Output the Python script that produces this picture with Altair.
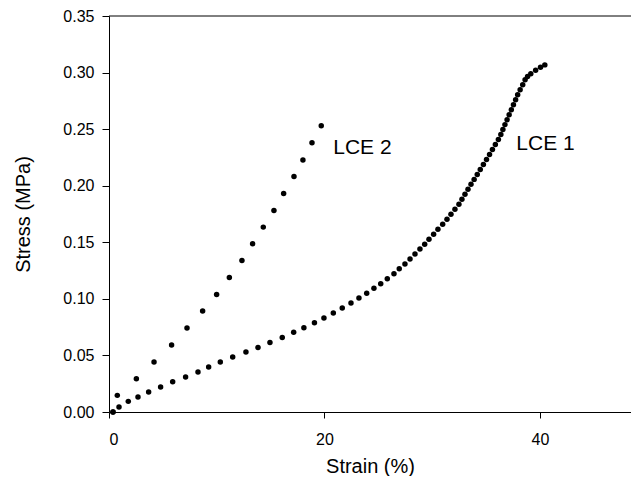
import altair as alt
import pandas as pd

# LCE 1
strain1 = [0.37, 0.93, 1.79, 2.69, 3.68, 4.79, 5.91, 7.11, 8.26, 9.25, 10.33, 11.48, 12.71,
           13.83, 14.94, 16.08, 17.14, 18.09, 19.07, 19.95, 20.82, 21.65, 22.46, 23.20, 23.92,
           24.59, 25.22, 25.83, 26.45, 26.94, 27.47, 27.94, 28.40, 28.86, 29.30, 29.70, 30.13,
           30.53, 30.97, 31.37, 31.74, 32.11, 32.48, 32.76, 33.04, 33.32, 33.60, 33.89, 34.18,
           34.46, 34.75, 35.04, 35.32, 35.59, 35.86, 36.14, 36.37, 36.56, 36.75, 36.95, 37.14,
           37.34, 37.54, 37.74, 37.93, 38.16, 38.40, 38.62, 38.85, 39.15, 39.60, 40.05, 40.45]
stress1 = [0.0000, 0.0044, 0.0094, 0.0132, 0.0177, 0.0221, 0.0268, 0.0309, 0.0353, 0.0397,
           0.0442, 0.0486, 0.0530, 0.0571, 0.0615, 0.0659, 0.0704, 0.0745, 0.0789, 0.0831,
           0.0875, 0.0919, 0.0963, 0.1008, 0.1049, 0.1093, 0.1134, 0.1178, 0.1222, 0.1267,
           0.1308, 0.1352, 0.1396, 0.1441, 0.1482, 0.1526, 0.1571, 0.1615, 0.1659, 0.1703,
           0.1747, 0.1792, 0.1836, 0.1880, 0.1924, 0.1968, 0.2012, 0.2056, 0.2100, 0.2144,
           0.2188, 0.2232, 0.2276, 0.2320, 0.2364, 0.2408, 0.2452, 0.2496, 0.2540, 0.2584,
           0.2628, 0.2672, 0.2716, 0.2760, 0.2804, 0.2848, 0.2892, 0.2936, 0.2965, 0.2990,
           0.3020, 0.3048, 0.3068]

# LCE 2
strain2 = [0.37, 0.77, 2.54, 4.18, 5.81, 7.24, 8.69, 9.99, 11.17, 12.34, 13.33, 14.32,
           15.31, 16.21, 17.17, 18.00, 18.84, 19.70]
stress2 = [0.0000, 0.0147, 0.0294, 0.0442, 0.0592, 0.0742, 0.0892, 0.1039, 0.1189, 0.1339,
           0.1487, 0.1634, 0.1781, 0.1931, 0.2081, 0.2228, 0.2379, 0.2529]

series_names = ["LCE 1", "LCE 2"]
x_ticks = [0, 20, 40]
y_ticks = [0.00, 0.05, 0.10, 0.15, 0.20, 0.25, 0.30, 0.35]
x_max = 48.45
y_max = 0.35

df = pd.concat([
    pd.DataFrame({"strain": strain1, "stress": stress1, "series": series_names[0]}),
    pd.DataFrame({"strain": strain2, "stress": stress2, "series": series_names[1]}),
], ignore_index=True)

FONT = "Liberation Sans"
xscale = alt.Scale(domain=[0, x_max], nice=False, zero=False)
yscale = alt.Scale(domain=[0, y_max], nice=False)

points = alt.Chart(df).mark_circle(size=30, color="black", opacity=1).encode(
    x=alt.X("strain:Q", scale=xscale,
            axis=alt.Axis(values=x_ticks, format="d", title="Strain (%)",
                          tickSize=6, labelPadding=13, titlePadding=9)),
    y=alt.Y("stress:Q", scale=yscale,
            axis=alt.Axis(values=y_ticks, format=".2f", title="Stress (MPa)",
                          tickSize=7, labelPadding=8, titlePadding=29)),
)

top_line = alt.Chart(pd.DataFrame({"stress": [y_max]})).mark_rule(
    color="black", strokeWidth=1).encode(y=alt.Y("stress:Q", scale=yscale))

lab2 = alt.Chart(pd.DataFrame({"strain": [strain2[-1]], "stress": [stress2[-1]],
                               "label": [series_names[1]]})).mark_text(
    align="left", baseline="middle", dx=12, dy=22, font=FONT, fontSize=21, color="black"
).encode(x=alt.X("strain:Q", scale=xscale), y=alt.Y("stress:Q", scale=yscale), text="label:N")

lab1 = alt.Chart(pd.DataFrame({"strain": [strain1[54]], "stress": [stress1[54]],
                               "label": [series_names[0]]})).mark_text(
    align="left", baseline="middle", dx=21, dy=-1, font=FONT, fontSize=21, color="black"
).encode(x=alt.X("strain:Q", scale=xscale), y=alt.Y("stress:Q", scale=yscale), text="label:N")

chart = alt.layer(top_line, points, lab2, lab1).properties(
    width=522, height=396,
    autosize=alt.AutoSizeParams(type="none"),
    padding={"left": 101, "top": 8, "right": 0, "bottom": 64},
    background="white",
).configure_view(stroke=None).configure_axis(
    grid=False,
    labelFont=FONT, labelFontSize=16, labelColor="black",
    titleFont=FONT, titleFontSize=20, titleFontWeight="normal", titleColor="black",
    domainColor="black", tickColor="black", domainWidth=1, tickWidth=1,
)

chart.save("out.html", embed_options={"renderer": "svg", "actions": False})
